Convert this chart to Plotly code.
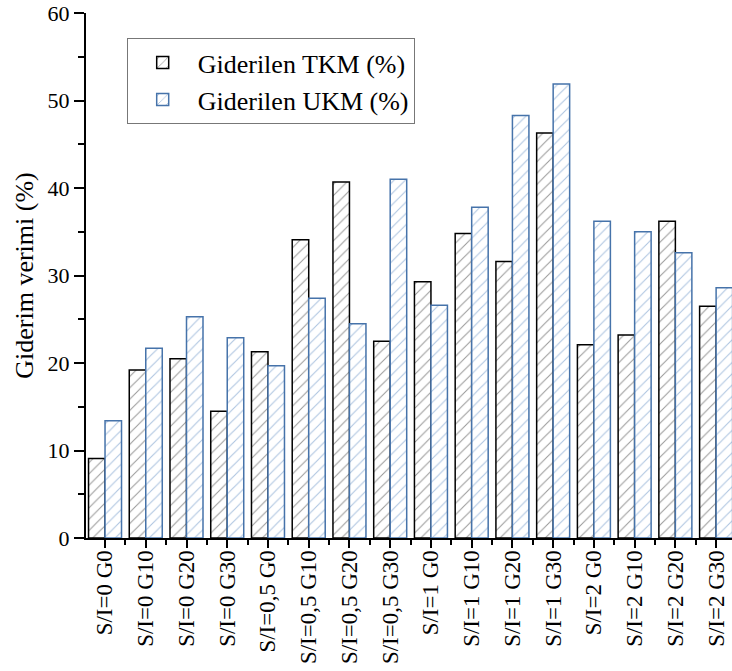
import plotly.graph_objects as go

categories = ["S/I=0 G0", "S/I=0 G10", "S/I=0 G20", "S/I=0 G30",
              "S/I=0,5 G0", "S/I=0,5 G10", "S/I=0,5 G20", "S/I=0,5 G30",
              "S/I=1 G0", "S/I=1 G10", "S/I=1 G20", "S/I=1 G30",
              "S/I=2 G0", "S/I=2 G10", "S/I=2 G20", "S/I=2 G30"]
tkm = [9.1, 19.2, 20.5, 14.5, 21.3, 34.1, 40.7, 22.5,
       29.3, 34.8, 31.6, 46.3, 22.1, 23.2, 36.2, 26.5]
ukm = [13.4, 21.7, 25.3, 22.9, 19.7, 27.4, 24.5, 41.0,
       26.6, 37.8, 48.3, 51.9, 36.2, 35.0, 32.6, 28.6]
yticks = [0, 10, 20, 30, 40, 50, 60]

xpos = list(range(len(categories)))
font_family = "Liberation Serif, Times New Roman, serif"
blue_line = "#4673aa"
blue_fill = "#5f8cc2"

fig = go.Figure()
fig.add_trace(go.Bar(
    x=xpos, y=tkm, name="Giderilen TKM (%)",
    marker=dict(color="white", line=dict(color="black", width=1.5),
                pattern=dict(shape="/", fgcolor="#333333", bgcolor="white",
                             size=8, solidity=0.13)),
))
fig.add_trace(go.Bar(
    x=xpos, y=ukm, name="Giderilen UKM (%)",
    marker=dict(color="white", line=dict(color=blue_line, width=1.5),
                pattern=dict(shape="/", fgcolor=blue_fill, bgcolor="white",
                             size=8, solidity=0.14)),
))

fig.update_layout(
    width=732, height=671,
    margin=dict(l=86, r=0, t=13, b=133, pad=0),
    plot_bgcolor="white", paper_bgcolor="white",
    barmode="group", bargap=0.19, bargroupgap=0,
    font=dict(family=font_family, color="black", size=20),
    showlegend=True,
    legend=dict(x=0.063, y=0.952, xanchor="left", yanchor="top",
                bgcolor="white", bordercolor="#777777", borderwidth=1,
                font=dict(size=26, family=font_family),
                tracegroupgap=0, itemwidth=60),
)
fig.update_xaxes(
    automargin=False,
    range=[-0.467, 15.39], tickmode="array", tickvals=xpos, ticktext=categories,
    tickangle=-90, tickfont=dict(size=23, family=font_family),
    ticklabelstandoff=-7,
    showline=True, linecolor="black", linewidth=2,
    ticks="outside", ticklen=8, tickwidth=1.5, tickcolor="black",
    minor=dict(ticks="outside", tick0=0.5, dtick=1, ticklen=5,
               tickwidth=1.5, tickcolor="black"),
    showgrid=False, zeroline=False,
)
fig.update_yaxes(
    automargin=False,
    range=[0, 60], tickmode="array", tickvals=yticks,
    tickfont=dict(size=22, family=font_family),
    title=dict(text="Giderim verimi (%)", font=dict(size=26, family=font_family), standoff=6),
    showline=True, linecolor="black", linewidth=2,
    ticks="outside", ticklen=10, tickwidth=1.5, tickcolor="black",
    minor=dict(ticks="outside", tick0=0, dtick=5, ticklen=6,
               tickwidth=1.5, tickcolor="black"),
    showgrid=False, zeroline=False,
)

fig.write_html("out.html", config={"displayModeBar": False},
               post_script="document.body.style.margin='0';")
